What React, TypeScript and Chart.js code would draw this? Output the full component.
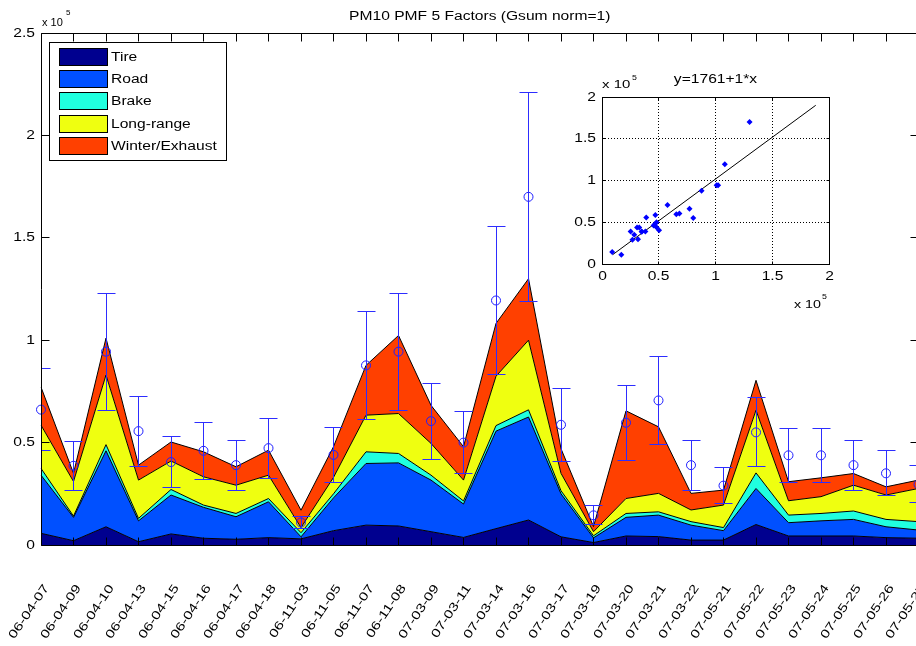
import React, { useEffect, useRef } from "react";
import { Chart, registerables } from "chart.js";
Chart.register(...registerables);

// ---------------- data ----------------
const sampleDates = [
  "06-04-07", "06-04-09", "06-04-10", "06-04-13", "06-04-15", "06-04-16", "06-04-17",
  "06-04-18", "06-11-03", "06-11-05", "06-11-07", "06-11-08", "07-03-09", "07-03-11",
  "07-03-14", "07-03-16", "07-03-17", "07-03-19", "07-03-20", "07-03-21", "07-03-22",
  "07-05-21", "07-05-22", "07-05-23", "07-05-24", "07-05-25", "07-05-26", "07-05-27",
];

const tire = [5700, 2100, 8900, 1600, 5400, 3300, 2800, 3600, 3000, 7000, 9700, 9300, 6500, 3700, 8000, 12200, 4000, 1200, 4400, 4100, 2400, 2400, 10000, 4400, 4400, 4400, 3600, 3300];
const road = [28400, 11400, 37100, 10200, 19000, 15100, 11000, 17500, 1000, 16000, 30100, 30800, 25200, 16300, 47600, 50300, 21000, 2300, 9100, 10500, 7300, 4600, 17600, 6500, 7400, 8100, 5300, 4000];
const brake = [3300, 600, 3000, 1200, 2700, 1100, 1600, 1600, 2000, 2000, 5700, 4600, 2400, 1500, 2700, 3500, 1500, 1000, 1900, 1600, 1700, 1500, 7600, 3700, 3600, 4100, 3600, 4100];
const longRange = [21100, 16900, 34000, 18700, 13900, 13800, 13800, 11400, 2500, 8000, 17900, 19500, 15500, 10200, 24100, 34000, 8500, 2000, 7300, 9000, 5700, 11000, 30600, 7000, 8200, 12600, 11900, 16200];
const winterExhaust = [18600, 4000, 18000, 7300, 9300, 12200, 9000, 12200, 8500, 15000, 24300, 38100, 18600, 16300, 25800, 30000, 12000, 2500, 42800, 32500, 8100, 7300, 14600, 9300, 9200, 5700, 4000, 4100];

const observed = [66100, 38700, 94400, 55600, 40500, 46000, 39000, 47300, 11000, 44000, 87700, 94400, 60500, 50000, 119400, 170000, 58700, 14500, 59700, 70600, 39000, 29000, 55000, 43800, 43800, 39000, 35000, 29600];
const obsError = [20000, 12000, 28600, 17100, 12600, 14000, 12200, 14600, 3000, 13600, 26500, 28600, 18600, 15300, 36200, 51000, 17800, 4700, 18300, 21500, 12200, 8900, 16800, 13300, 13300, 12200, 11000, 9000];

const factorNames = ["Tire", "Road", "Brake", "Long-range", "Winter/Exhaust"];
const factorColors = ["#00008F", "#0050FF", "#20FFDF", "#EFFF10", "#FF4000"];
const factorSeries = [tire, road, brake, longRange, winterExhaust];

const mainYTicks = [0, 50000, 100000, 150000, 200000, 250000];
const insetTicks = [0, 50000, 100000, 150000, 200000];

const fitIntercept = 1761;
const fitSlope = 1;
const fitXRange = [9400, 188300];

const mainTitle = "PM10 PMF 5 Factors (Gsum norm=1)";
const insetTitle = "y=1761+1*x";

// ---------------- helpers ----------------
const FONT = '"Liberation Sans", Arial, Helvetica, sans-serif';
const fmt = (v: number) => String(v / 1e5);

function drawText(
  ctx: CanvasRenderingContext2D, s: string, x: number, y: number,
  align: CanvasTextAlign, size = 12, sx = 1.3, rot = 0
) {
  ctx.save();
  ctx.translate(x, y);
  if (rot) ctx.rotate(rot);
  ctx.scale(sx, 1);
  ctx.font = `${size}px ${FONT}`;
  ctx.textAlign = align;
  ctx.textBaseline = "middle";
  ctx.fillStyle = "#000";
  ctx.fillText(s, 0, 0);
  ctx.restore();
}
function seg(ctx: CanvasRenderingContext2D, x1: number, y1: number, x2: number, y2: number) {
  ctx.beginPath();
  ctx.moveTo(x1, y1);
  ctx.lineTo(x2, y2);
  ctx.stroke();
}
const px5 = (v: number) => Math.round(v - 0.5) + 0.5;

// ---------------- plugins ----------------
const mainDecor = {
  id: "mainDecor",
  afterDatasetsDraw(chart: any) {
    const { ctx, chartArea: a, scales: { x, y } } = chart;
    ctx.save();
    ctx.beginPath();
    ctx.rect(a.left, a.top - 1, a.right - a.left, a.bottom - a.top + 2);
    ctx.clip();
    ctx.strokeStyle = "rgb(45,45,255)";
    ctx.lineWidth = 1;
    observed.forEach((v, i) => {
      const px = px5(x.getPixelForValue(i));
      const y1 = px5(y.getPixelForValue(v - obsError[i]));
      const y2 = px5(y.getPixelForValue(v + obsError[i]));
      seg(ctx, px, y1, px, y2);
      seg(ctx, px - 9, y1, px + 9, y1);
      seg(ctx, px - 9, y2, px + 9, y2);
    });
    ctx.restore();
  },
  afterDraw(chart: any) {
    const { ctx, chartArea: a, scales: { x, y } } = chart;
    const L = px5(a.left), R = px5(a.right), T = px5(a.top), B = px5(a.bottom);
    ctx.save();
    ctx.strokeStyle = "#000";
    ctx.lineWidth = 1;
    seg(ctx, L, T, R, T);
    seg(ctx, L, B, R, B);
    seg(ctx, L, T, L, B);
    seg(ctx, R, T, R, B);
    mainYTicks.forEach((v) => {
      const py = px5(y.getPixelForValue(v));
      seg(ctx, L, py, L + 8, py);
      seg(ctx, R, py, R - 8, py);
      drawText(ctx, fmt(v), a.left - 6, py, "right");
    });
    sampleDates.forEach((d, i) => {
      const px = px5(x.getPixelForValue(i));
      seg(ctx, px, T, px, T + 8);
      seg(ctx, px, B, px, B - 8);
      drawText(ctx, d, px + 5, 586, "right", 12, 1.3, (-56 * Math.PI) / 180);
    });
    drawText(ctx, mainTitle, (a.left + a.right) / 2, 17, "center");
    drawText(ctx, "x 10", a.left + 1, 23, "left", 11, 1.0);
    drawText(ctx, "5", a.left + 25, 13, "left", 8, 1.0);

    // legend
    const lx = 49.5, ly = 42.5, lw = 177, lh = 118;
    ctx.fillStyle = "#fff";
    ctx.fillRect(lx, ly, lw, lh);
    ctx.strokeRect(lx, ly, lw, lh);
    factorNames.forEach((name, k) => {
      const top = 47.5 + k * 22.4;
      const sy = Math.round(top) + 0.5;
      ctx.fillStyle = factorColors[k];
      ctx.fillRect(59.5, sy, 48, 17);
      ctx.strokeStyle = "#000";
      ctx.strokeRect(59.5, sy, 48, 17);
      drawText(ctx, name, 111, sy + 9, "left");
    });
    ctx.restore();
  },
};

const insetDecor = {
  id: "insetDecor",
  beforeDatasetsDraw(chart: any) {
    const { ctx, chartArea: a, scales: { x, y } } = chart;
    ctx.save();
    ctx.fillStyle = "#fff";
    ctx.fillRect(a.left, a.top, a.right - a.left, a.bottom - a.top);
    ctx.strokeStyle = "#000";
    ctx.lineWidth = 1;
    ctx.setLineDash([1, 2]);
    insetTicks.slice(1, -1).forEach((v) => {
      const px = px5(x.getPixelForValue(v));
      const py = px5(y.getPixelForValue(v));
      seg(ctx, px, a.top, px, a.bottom);
      seg(ctx, a.left, py, a.right, py);
    });
    ctx.restore();
  },
  afterDraw(chart: any) {
    const { ctx, chartArea: a, scales: { x, y } } = chart;
    const L = px5(a.left), R = px5(a.right), T = px5(a.top), B = px5(a.bottom);
    ctx.save();
    ctx.strokeStyle = "#000";
    ctx.lineWidth = 1;
    ctx.strokeRect(L, T, R - L, B - T);
    insetTicks.forEach((v) => {
      const px = px5(x.getPixelForValue(v));
      const py = px5(y.getPixelForValue(v));
      seg(ctx, px, B, px, B - 3);
      seg(ctx, px, T, px, T + 3);
      seg(ctx, L, py, L + 3, py);
      seg(ctx, R, py, R - 3, py);
      drawText(ctx, fmt(v), a.left - 6, py, "right");
      drawText(ctx, fmt(v), px, a.bottom + 13, "center");
    });
    drawText(ctx, insetTitle, (a.left + a.right) / 2, 20, "center");
    drawText(ctx, "x 10", a.left, 25, "left", 11.5);
    drawText(ctx, "5", a.left + 30, 18, "left", 8, 1.1);
    drawText(ctx, "x 10", a.right - 35, 245, "left", 11);
    drawText(ctx, "5", a.right - 7, 237, "left", 8, 1.1);
    ctx.restore();
  },
};

// ---------------- component ----------------
export default function App() {
  const mainRef = useRef<HTMLCanvasElement>(null);
  const insetRef = useRef<HTMLCanvasElement>(null);

  useEffect(() => {
    const areaSets = factorSeries.map((series, k) => ({
      type: "line" as const,
      label: factorNames[k],
      data: series,
      backgroundColor: factorColors[k],
      borderColor: "#000",
      borderWidth: 1,
      pointRadius: 0,
      tension: 0,
      fill: k === 0 ? "origin" : k - 1,
      stack: "factors",
    }));
    const main = new Chart(mainRef.current!, {
      type: "line",
      data: {
        labels: sampleDates,
        datasets: [
          ...areaSets,
          {
            type: "line",
            label: "Observed",
            data: observed,
            showLine: false,
            pointStyle: "circle",
            pointRadius: 4.5,
            pointBorderWidth: 1,
            pointBorderColor: "rgb(30,30,255)",
            pointBackgroundColor: "rgba(0,0,0,0)",
            borderColor: "rgb(30,30,255)",
            stack: "observed",
            order: -1,
            clip: false,
          } as any,
        ],
      },
      options: {
        responsive: false,
        animation: false,
        devicePixelRatio: 1,
        layout: { padding: { left: 41, top: 33, right: 21.5, bottom: 101 } },
        plugins: { legend: { display: false }, tooltip: { enabled: false }, title: { display: false } },
        scales: {
          x: { type: "category", display: false, offset: false },
          y: { type: "linear", display: false, stacked: true, min: 0, max: 250000 },
        },
      },
      plugins: [mainDecor],
    } as any);

    const modelSums = sampleDates.map((_, i) => factorSeries.reduce((s, arr) => s + arr[i], 0));
    const inset = new Chart(insetRef.current!, {
      type: "scatter",
      data: {
        datasets: [
          {
            label: "Observed vs model",
            data: modelSums.map((m, i) => ({ x: m, y: observed[i] })),
            pointStyle: "rectRot",
            pointRadius: 3,
            pointBackgroundColor: "#0000FF",
            pointBorderColor: "#0000FF",
            borderWidth: 0,
          },
          {
            type: "line",
            label: "Fit",
            data: fitXRange.map((v) => ({ x: v, y: fitIntercept + fitSlope * v })),
            borderColor: "#000",
            borderWidth: 1,
            pointRadius: 0,
            showLine: true,
            fill: false,
          } as any,
        ],
      },
      options: {
        responsive: false,
        animation: false,
        devicePixelRatio: 1,
        layout: { padding: { left: 42, top: 37, right: 31, bottom: 56 } },
        plugins: { legend: { display: false }, tooltip: { enabled: false } },
        scales: {
          x: { type: "linear", display: false, min: 0, max: 200000 },
          y: { type: "linear", display: false, min: 0, max: 200000 },
        },
      },
      plugins: [insetDecor],
    } as any);

    return () => {
      main.destroy();
      inset.destroy();
    };
  }, []);

  return (
    <div style={{ position: "fixed", left: 0, top: 0, width: 916, height: 646, overflow: "hidden", background: "#fff" }}>
      <canvas ref={mainRef} width={940} height={646} style={{ position: "absolute", left: 0, top: 0, width: 940, height: 646 }} />
      <canvas ref={insetRef} width={300} height={260} style={{ position: "absolute", left: 560, top: 60, width: 300, height: 260 }} />
    </div>
  );
}
